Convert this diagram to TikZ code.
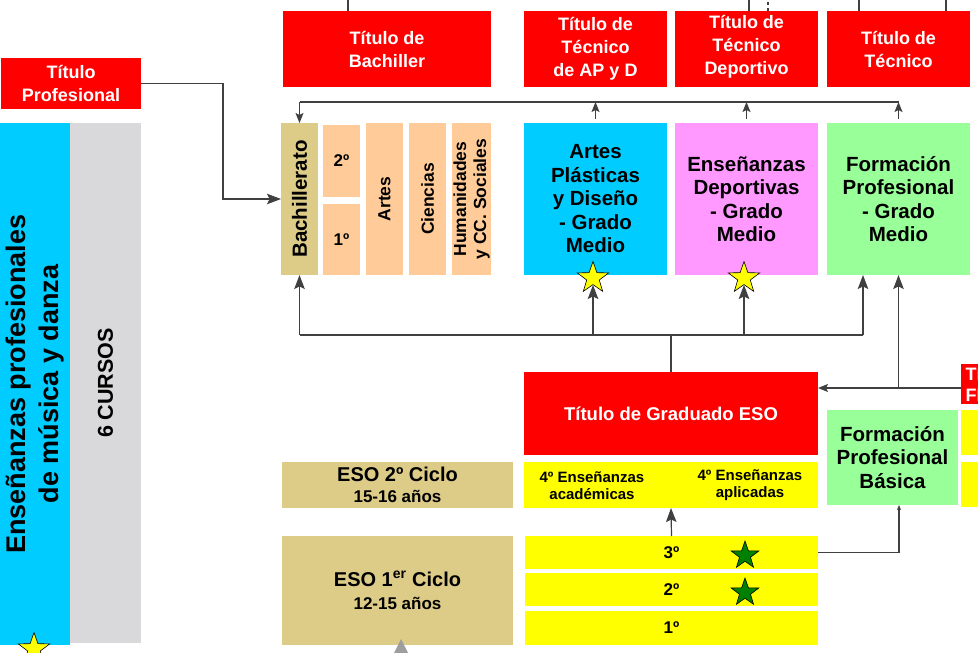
\documentclass[tikz,border=0pt]{standalone}
\usepackage{fontspec}
\setmainfont{Liberation Sans}
\usetikzlibrary{positioning,shapes,arrows.meta,calc}

\definecolor{rojo}{HTML}{FF0000}
\definecolor{celeste}{HTML}{00CCFF}
\definecolor{gris}{HTML}{D9D9DB}
\definecolor{arena}{HTML}{DDCC88}
\definecolor{melocoton}{HTML}{FFCC99}
\definecolor{rosa}{HTML}{FF99FF}
\definecolor{verdeclaro}{HTML}{99FF99}
\definecolor{amarillo}{HTML}{FFFF00}
\definecolor{verdeoscuro}{HTML}{008000}
\definecolor{trazo}{HTML}{404040}

\newcommand{\tam}[2]{\fontsize{#1}{#2}\selectfont\bfseries}

\tikzset{
  caja/.style={inner sep=0pt, outer sep=0pt, align=center},
  titulo/.style={caja, fill=rojo, text=white, font=\tam{18}{23}},
  grande/.style={caja, font=\tam{20.5}{23.5}, minimum width=143pt, minimum height=152pt},
  vert/.style={rotate=90, align=center, inner sep=0pt},
  linea/.style={draw=trazo, line width=1.2pt},
  flecha/.style={linea, -{Stealth[length=10pt,width=8pt,inset=2pt]}},
  flechagrande/.style={linea, -{Stealth[length=14pt,width=10.5pt,inset=2.5pt]}},
  flechapeq/.style={linea, -{Stealth[length=5pt,width=4pt,inset=1pt]}},
  estrella/.style={star, star points=5, star point ratio=2.5, draw=black,
    line width=0.6pt, inner sep=0pt, minimum size=33pt},
}

\begin{document}
\begin{tikzpicture}[x=1pt,y=-1pt]
\useasboundingbox (0,0) rectangle (978,653);
\clip (0,0) rectangle (978,653);

% columna izquierda
\node[titulo, minimum width=140pt, minimum height=51pt] (tprof) at (71,83.5) {Título\\Profesional};
\node[caja, fill=celeste, minimum width=70pt, minimum height=522pt] (emd) at (35,384) {};
\node[vert, font=\tam{27}{33}] (emdtxt) at (emd) {Enseñanzas profesionales\\de música y danza};
\node[caja, fill=gris, minimum width=71pt, minimum height=520pt] (cursos) at (105.5,383) {};
\node[vert, font=\tam{21.5}{24}] (cursostxt) at (cursos) {6 CURSOS};
\node[estrella, fill=amarillo] (estemd) at (34,649) {};

% titulos
\node[titulo, minimum width=208pt, minimum height=76pt] (tbach) at (387,49) {Título de\\Bachiller};
\node[titulo, minimum width=143pt, minimum height=76pt] (tapd) at (595.5,49) {Título de\\Técnico\\de AP y D};
\node[titulo, minimum width=143pt, minimum height=76pt] (tdep) at (746.5,49) {};
\node[caja, text=white, font=\tam{18}{23}] (tdeptxt) at (746.5,46.5) {Título de\\Técnico\\Deportivo};
\node[titulo, minimum width=143pt, minimum height=76pt] (ttec) at (898.5,49) {Título de\\Técnico};

% bachillerato
\node[caja, fill=arena, minimum width=37pt, minimum height=152pt] (bach) at (299.5,199) {};
\node[vert, font=\tam{20.5}{23}] (bachtxt) at (bach) {Bachillerato};
\node[caja, fill=melocoton, font=\tam{17}{20}, minimum width=37pt, minimum height=72pt] (seg) at (341.5,161) {2º};
\node[caja, fill=melocoton, font=\tam{17}{20}, minimum width=37pt, minimum height=71pt] (pri) at (341.5,239.5) {1º};
\node[caja, fill=melocoton, minimum width=37pt, minimum height=152pt] (artes) at (384.5,199) {};
\node[vert, font=\tam{17.5}{20}] (artestxt) at (artes) {Artes};
\node[caja, fill=melocoton, minimum width=37pt, minimum height=152pt] (cienc) at (427.5,199) {};
\node[vert, font=\tam{17.5}{20}] (cienctxt) at (cienc) {Ciencias};
\node[caja, fill=melocoton, minimum width=39pt, minimum height=152pt] (human) at (471.5,199) {};
\node[vert, font=\tam{17.5}{20}] (humantxt) at (human) {Humanidades\\y CC. Sociales};

% grado medio
\node[grande, fill=celeste] (apd) at (595.5,199) {Artes\\Plásticas\\y Diseño\\- Grado\\Medio};
\node[grande, fill=rosa] (dep) at (746.5,199) {Enseñanzas\\Deportivas\\- Grado\\Medio};
\node[grande, fill=verdeclaro] (fpgm) at (898.5,199) {Formación\\Profesional\\- Grado\\Medio};
\node[estrella, fill=amarillo] (estapd) at (593,278) {};
\node[estrella, fill=amarillo] (estdep) at (744,278) {};

% ESO
\node[titulo, font=\tam{18.5}{22}, minimum width=294pt, minimum height=83pt] (tgeso) at (671,413.5) {Título de Graduado ESO};
\node[caja, fill=arena, font=\tam{20}{21}, minimum width=231pt, minimum height=46pt] (eso2) at (397.5,485) {ESO 2º Ciclo\\\fontsize{17}{21}\selectfont 15-16 años};
\node[caja, fill=amarillo, minimum width=294pt, minimum height=46pt] (cuarto) at (671,485) {};
\node[caja, font=\tam{15}{17}] (acad) at (592,485.5) {4º Enseñanzas\\académicas};
\node[caja, font=\tam{15}{17}] (apli) at (750,485.5) {4º Enseñanzas\\aplicadas};
\node[caja, fill=arena, font=\tam{20}{23}, minimum width=231pt, minimum height=109pt] (eso1) at (397.5,590.5) {ESO 1\textsuperscript{er} Ciclo\\\fontsize{17}{23}\selectfont 12-15 años};
\node[caja, fill=amarillo, font=\tam{17}{20}, minimum width=293pt, minimum height=33pt] (c3) at (671.5,552.5) {3º};
\node[caja, fill=amarillo, font=\tam{17}{20}, minimum width=293pt, minimum height=33pt] (c2) at (671.5,589.5) {2º};
\node[caja, fill=amarillo, font=\tam{17}{20}, minimum width=293pt, minimum height=34pt] (c1) at (671.5,628) {1º};
\node[estrella, fill=verdeoscuro, minimum size=29pt] (est3) at (745,555.5) {};
\node[estrella, fill=verdeoscuro, minimum size=29pt] (est2) at (745,592.5) {};

% FP basica
\node[caja, fill=verdeclaro, font=\tam{20.5}{23.5}, minimum width=131pt, minimum height=95pt] (fpb) at (892.5,457.5) {Formación\\Profesional\\Básica};
\node[titulo, anchor=west, align=left, inner xsep=4.5pt, font=\tam{18}{21}, minimum height=40pt] (tfpb) at (961,384) {Título de\\FP Básica};
\node[caja, fill=amarillo, anchor=west, minimum width=120pt, minimum height=45pt] (dcha1) at (961,432.5) {};
\node[caja, fill=amarillo, anchor=west, minimum width=120pt, minimum height=45pt] (dcha2) at (961,484.5) {};
\fill[black!38] (393,655) -- (401,639) -- (409,655) -- cycle;

% conexiones
\coordinate (busalto) at (0,102);
\coordinate (busbajo) at (0,335);
\coordinate (busdcha) at (0,388);
\coordinate (fpgmin) at ($(fpgm.south)+(-35.5,0)$);

\draw[flechagrande] (tprof.east) -- ++(82,0) |- (bach.west);

\draw[linea] ($(tbach.north)+(-39,0)$) -- ++(0,-12);
\draw[linea] ($(tdep.north)+(2.5,0)$) -- ++(0,-12);
\draw[linea, dashed] ($(tdep.north)+(21.5,0)$) -- ++(0,-12);
\draw[linea] ($(ttec.north)+(-39.5,0)$) -- ++(0,-12);
\draw[linea] ($(ttec.north)+(47.5,0)$) -- ++(0,-12);

\draw[linea] (bach.north |- busalto) -- (fpgm.north |- busalto);
\draw[flecha] (bach.north |- busalto) -- (bach.north);
\draw[flecha, shorten <=4pt] (apd.north) -- (apd.north |- busalto);
\draw[flecha, shorten <=4pt] (dep.north) -- (dep.north |- busalto);
\draw[flecha, shorten <=4pt] (fpgm.north) -- (fpgm.north |- busalto);

\draw[linea] (bach.south |- busbajo) -- (fpgmin |- busbajo);
\draw[linea] (tgeso.north) -- (tgeso.north |- busbajo);
\draw[flechagrande] (bach.south |- busbajo) -- (bach.south);
\draw[flechagrande] (estapd.south |- busbajo) -- (estapd.south);
\draw[flechagrande] (estdep.south |- busbajo) -- (estdep.south);
\draw[flechagrande] (fpgmin |- busbajo) -- (fpgmin);

\draw[flecha] (tfpb.west |- busdcha) -- (tgeso.east |- busdcha);
\draw[flechagrande] (fpgm.south |- busdcha) -- (fpgm.south);

\draw[flechagrande] (c3.north) -- (cuarto.south);
\draw[flechapeq] (c3.east) -| ($(fpb.south)+(6.5,0)$);
\end{tikzpicture}
\end{document}
